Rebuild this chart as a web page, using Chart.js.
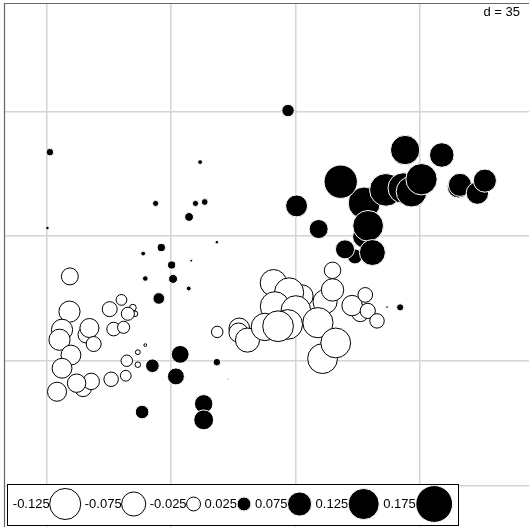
<!DOCTYPE html>
<html>
<head>
<meta charset="utf-8">
<script src="https://cdn.jsdelivr.net/npm/chart.js@4/dist/chart.umd.min.js"></script>
<style>
  html, body { margin: 0; padding: 0; background: #fff; overflow: hidden; }
  canvas { display: block; }
</style>
</head>
<body>
<canvas id="chart" width="529" height="527"></canvas>
<script>
// site coordinates on the first two axes and the value shown by each circle
const siteX = [
  -63.4, -63.5, -65.6, -66.3, -58.8, -57.9, -56.7, -63.1, -65.6, -59.7, -57.4, -61.5, -67.0,
  -52.2, -48.9, -45.7, -45.1, -47.1, -51.1, -48.3, -42.2, -44.3, -47.4, -44.3, -51.8, -47.7,
  -22.0, -15.8, -16.0, -13.5, -6.2, 1.8, -1.8, -5.8, 0.1, -8.6, -2.2, -4.9,
  8.3, 6.3, 10.4, 10.4, 7.6, 11.3, 18.2, 15.9, 19.6, 20.3, 22.9,
  -2.1, -69.0, -26.8, -69.7, -39.3, -28.1, -25.5, -29.9, -22.1, -37.7, -42.8, -34.8, -29.3,
  -42.2, -34.4, -30.0, -38.4, 29.4, 25.7, -32.4, -22.1, -40.2, -33.6, -18.9, -43.1, -25.8, -25.8,
  0.3, 6.5, 19.2, 16.7, 13.9, 19.3, 12.7, 25.4, 30.3, 32.6, 30.8, 41.1, 45.8, 46.2,
  51.1, 53.2, 35.4, 20.4, 21.6
];
const siteY = [
  -11.3, -21.2, -26.3, -29.1, -27.7, -25.8, -30.3, -33.4, -37.1, -42.7, -40.8, -41.3, -43.7,
  -20.5, -17.9, -20.1, -21.8, -21.8, -26.1, -25.6, -30.6, -32.6, -35.0, -36.1, -40.2, -39.2,
  -26.9, -25.9, -27.1, -29.2, -13.1, -16.8, -15.8, -19.7, -20.9, -25.5, -24.8, -25.3,
  -18.4, -24.3, -15.1, -9.6, -34.4, -30.0, -21.6, -19.5, -16.5, -21.0, -23.8,
  35.3, 23.6, 20.8, 2.3, 9.2, 9.2, 9.6, 5.4, -1.7, -3.2, -4.9, -8.1, -6.9,
  -11.9, -12.0, -14.7, -17.5, -20.0, -19.9, -33.2, -35.4, -36.4, -39.4, -40.2, -49.4, -47.1, -51.6,
  8.5, 2.0, -0.1, -5.7, -3.7, 9.3, 15.3, 13.0, 13.5, 12.5, 24.2, 22.8, 13.9, 14.4,
  12.1, 15.6, 16.0, 2.9, -4.6
];
const siteValue = [
  -0.037, -0.058, -0.058, -0.058, -0.035, -0.047, -0.029, -0.051, -0.051, -0.037, -0.035, -0.044, -0.047,
  -0.029, -0.015, -0.006, -0.004, -0.022, -0.024, -0.019, -0.001, -0.003, -0.017, -0.004, -0.027, -0.015,
  -0.017, -0.055, -0.048, -0.075, -0.091, -0.065, -0.11, -0.11, -0.114, -0.097, -0.114, -0.122,
  -0.075, -0.118, -0.065, -0.035, -0.115, -0.115, -0.038, -0.054, -0.028, -0.03, -0.027,
  0.02, 0.0074, 0.0031, 0.0016, 0.0049, 0.0049, 0.0059, 0.01, 0.0016, 0.0087, 0.003, 0.0087, 0.001,
  0.004, 0.0105, 0.003, 0.0176, 0.0066, 0.0009, 0.041, 0.0074, 0.024, 0.037, 0.0003, 0.024, 0.044, 0.051,
  0.062, 0.047, 0.065, 0.029, 0.047, 0.133, 0.144, 0.138, 0.122, 0.122, 0.111, 0.078, 0.066, 0.069,
  0.065, 0.069, 0.127, 0.122, 0.087
];

const legendValues = [-0.125, -0.075, -0.025, 0.025, 0.075, 0.125, 0.175];
const gridX = [-70, -35, 0, 35];
const gridY = [-70, -35, 0, 35];
const gridLabel = "d = 35";

const xRange = [-81.9, 65.6];
const yRange = [-81.7, 65.5];
const sizeScale = 44;
const labelFont = "13px 'Liberation Sans', Arial, sans-serif";

function bubbleRadius(v) {
  return sizeScale * Math.sqrt(Math.abs(v));
}

const points = siteX.map((x, i) => ({ x: x, y: siteY[i], r: bubbleRadius(siteValue[i]) }));

// frame on the top and left side of the plotting region
const framePlugin = {
  id: "frame",
  beforeDatasetsDraw(chart) {
    const ctx = chart.ctx;
    const a = chart.chartArea;
    ctx.save();
    ctx.strokeStyle = "#666";
    ctx.lineWidth = 1.2;
    ctx.beginPath();
    ctx.moveTo(a.left + 0.5, a.bottom + 2);
    ctx.lineTo(a.left + 0.5, a.top + 0.5);
    ctx.lineTo(a.right + 2, a.top + 0.5);
    ctx.stroke();
    ctx.restore();
  }
};

// grid size label and the circle size legend
const legendPlugin = {
  id: "sizeLegend",
  afterDraw(chart) {
    const ctx = chart.ctx;
    ctx.save();
    ctx.font = labelFont;
    ctx.fillStyle = "#000";
    ctx.textBaseline = "middle";
    ctx.textAlign = "right";
    ctx.fillText(gridLabel, 520, 12);

    ctx.fillStyle = "#fff";
    ctx.fillRect(7, 484, 452, 42);
    ctx.strokeStyle = "#000";
    ctx.lineWidth = 1;
    ctx.strokeRect(7.5, 484.5, 451, 41);

    const cy = 504;
    let cx = 12.8;
    ctx.textAlign = "left";
    legendValues.forEach((v) => {
      const label = String(v);
      ctx.fillStyle = "#000";
      ctx.fillText(label, cx, cy);
      cx += ctx.measureText(label).width;
      const r = bubbleRadius(v);
      ctx.beginPath();
      ctx.arc(cx + r, cy, r, 0, Math.PI * 2);
      ctx.fillStyle = v > 0 ? "#000" : "#fff";
      ctx.strokeStyle = v > 0 ? "#fff" : "#000";
      ctx.fill();
      ctx.stroke();
      cx += 2 * r + 4;
    });
    ctx.restore();
  }
};

function axisOptions(range, grid) {
  return {
    type: "linear",
    min: range[0],
    max: range[1],
    afterBuildTicks: (scale) => {
      scale.ticks = grid.map((v) => ({ value: v }));
    },
    ticks: { display: false },
    grid: { color: "#d4d4d4", lineWidth: 1.5, drawTicks: false },
    border: { display: false }
  };
}

new Chart(document.getElementById("chart"), {
  type: "bubble",
  data: {
    datasets: [{
      data: points,
      backgroundColor: (c) => (siteValue[c.dataIndex] > 0 ? "#000" : "#fff"),
      borderColor: (c) => (siteValue[c.dataIndex] > 0 ? "#fff" : "#000"),
      borderWidth: 1
    }]
  },
  options: {
    responsive: false,
    animation: false,
    events: [],
    layout: { autoPadding: false, padding: { left: 4, top: 3, right: 0, bottom: 0 } },
    scales: {
      x: axisOptions(xRange, gridX),
      y: axisOptions(yRange, gridY)
    },
    plugins: {
      legend: { display: false },
      tooltip: { enabled: false }
    }
  },
  plugins: [framePlugin, legendPlugin]
});
</script>
</body>
</html>
